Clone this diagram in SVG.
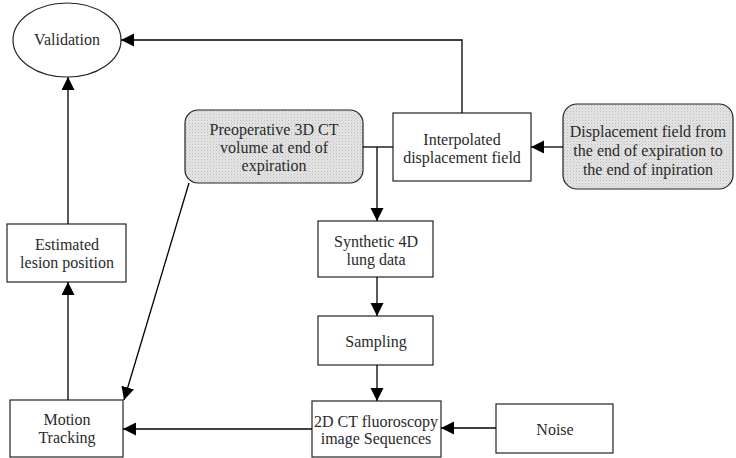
<svg xmlns="http://www.w3.org/2000/svg" width="736" height="458" viewBox="0 0 736 458">
<style>
.box{fill:#fff;stroke:#222;stroke-width:1.2}
.gray{fill:url(#dots);stroke:#222;stroke-width:1.2}
text{font-family:"Liberation Serif","Times New Roman",serif;font-size:16px;fill:#2a2a2a;text-anchor:middle}
.ln{fill:none;stroke:#000;stroke-width:1.3}
</style>
<defs>
<pattern id="dots" width="3" height="3" patternUnits="userSpaceOnUse">
<rect width="3" height="3" fill="#e4e4e4"/>
<rect width="1" height="1" fill="#bdbdbd"/>
<rect x="1.5" y="1.5" width="1" height="1" fill="#cfcfcf"/>
</pattern>
<marker id="ah" markerUnits="userSpaceOnUse" markerWidth="14" markerHeight="14" refX="13" refY="6.5" orient="auto">
<path d="M0,0 L13,6.5 L0,13 Z" fill="#000"/>
</marker>
</defs>
<g id="validation"><ellipse cx="67" cy="40" rx="54" ry="37" class="box"/><text x="67" y="45">Validation</text></g>
<g id="preoperative"><rect x="185" y="110" width="178" height="73" rx="13" class="gray"/><text x="274" y="135">Preoperative 3D CT</text><text x="274" y="153">volume at end of</text><text x="274" y="171">expiration</text></g>
<g id="interpolated"><rect x="393" y="113" width="138" height="68" class="box"/><text x="462" y="145">Interpolated</text><text x="462" y="163">displacement field</text></g>
<g id="displacement"><rect x="563" y="104" width="170" height="85" rx="14" class="gray"/><text x="648" y="137">Displacement field from</text><text x="648" y="156">the end of expiration to</text><text x="648" y="175">the end of inpiration</text></g>
<g id="estimated"><rect x="7" y="224" width="119" height="58" class="box"/><text x="67" y="250">Estimated</text><text x="67" y="268">lesion position</text></g>
<g id="synthetic"><rect x="318" y="221" width="115" height="56" class="box"/><text x="376" y="247">Synthetic 4D</text><text x="376" y="265">lung data</text></g>
<g id="sampling"><rect x="318" y="316" width="115" height="49" class="box"/><text x="376" y="347">Sampling</text></g>
<g id="ct2d"><rect x="312" y="401" width="129" height="56" class="box"/><text x="376" y="427">2D CT fluoroscopy</text><text x="376" y="444">image Sequences</text></g>
<g id="motion"><rect x="10" y="400" width="113" height="57" class="box"/><text x="67" y="425">Motion</text><text x="67" y="443">Tracking</text></g>
<g id="noise"><rect x="496" y="404" width="117" height="49" class="box"/><text x="555" y="435">Noise</text></g>
<g id="connectors">
<path class="ln" d="M462,113 V40 H121" marker-end="url(#ah)"/>
<path class="ln" d="M68,224 V77" marker-end="url(#ah)"/>
<path class="ln" d="M68,400 V282" marker-end="url(#ah)"/>
<path class="ln" d="M363,147 H393"/>
<path class="ln" d="M377,147 V221" marker-end="url(#ah)"/>
<path class="ln" d="M563,147 H531" marker-end="url(#ah)"/>
<path class="ln" d="M377,277 V316" marker-end="url(#ah)"/>
<path class="ln" d="M377,365 V401" marker-end="url(#ah)"/>
<path class="ln" d="M496,428 H441" marker-end="url(#ah)"/>
<path class="ln" d="M312,429 H123" marker-end="url(#ah)"/>
<path class="ln" d="M189,183 L124,400" marker-end="url(#ah)"/>
</g>
</svg>
